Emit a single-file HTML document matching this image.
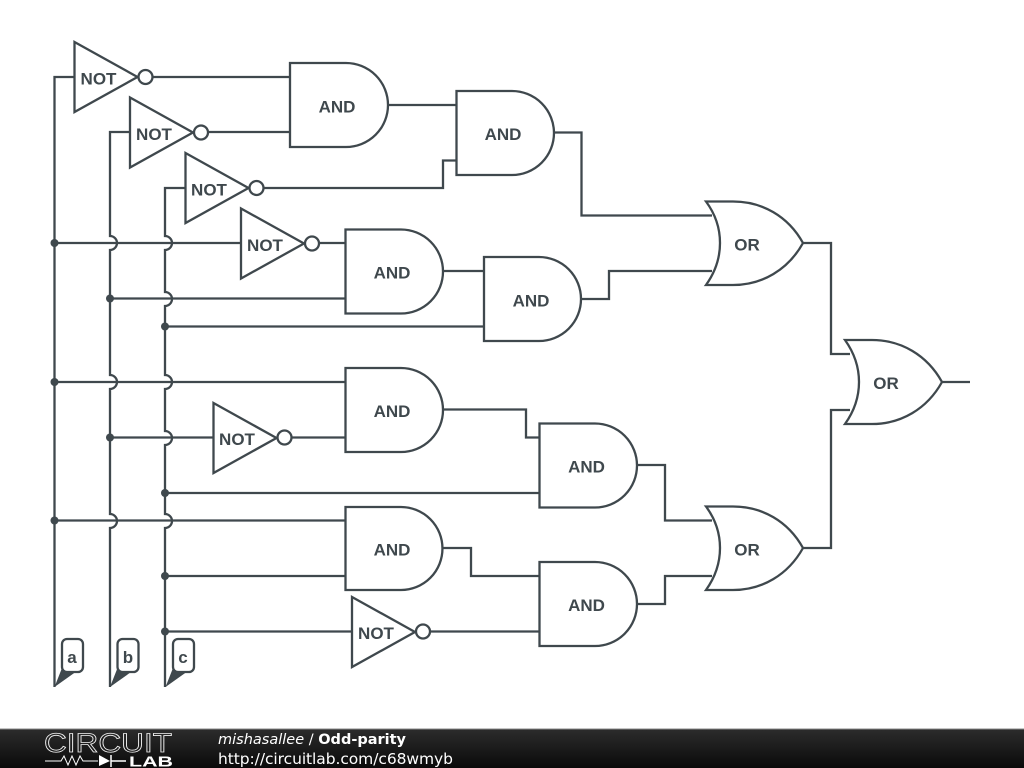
<!DOCTYPE html>
<html><head><meta charset="utf-8"><title>Odd-parity</title>
<style>
html,body{margin:0;padding:0;background:#fff;width:1024px;height:768px;overflow:hidden}
svg{display:block}
.w{fill:none;stroke:#3f484d;stroke-width:2.300}
.g{fill:#fff;stroke:#3f484d;stroke-width:2.300;stroke-linejoin:miter}
.t{font-family:"Liberation Sans",sans-serif;font-weight:bold;font-size:17px;fill:#3f484d;text-anchor:middle}
.l{font-family:"Liberation Sans",sans-serif;font-weight:bold;font-size:17px;fill:#3f484d;text-anchor:middle}
.f{font-family:"DejaVu Sans",sans-serif;font-size:14.5px;fill:#fff}
</style></head><body>
<svg width="1024" height="768" viewBox="0 0 1024 768" xmlns="http://www.w3.org/2000/svg">
<defs><linearGradient id="bar" x1="0" y1="0" x2="0" y2="1"><stop offset="0" stop-color="#2c2c2c"/><stop offset="1" stop-color="#0a0a0a"/></linearGradient></defs>
<rect width="1024" height="768" fill="#fff"/>
<!-- buses -->
<path class="w" d="M74.500 77H54.500V687"/>
<path class="w" d="M130 132H110V236A7 7 0 0 1 110 250V375A7 7 0 0 1 110 389V514A7 7 0 0 1 110 528V687"/>
<path class="w" d="M185 188H165V236A7 7 0 0 1 165 250V292A7 7 0 0 1 165 306V375A7 7 0 0 1 165 389V431A7 7 0 0 1 165 445V514A7 7 0 0 1 165 528V687"/>
<!-- horizontals -->
<path class="w" d="M152 77H290M208 132H290M264 188H443V160.500H457M388 105H457M554 132.500H581.500V215.500H712"/>
<path class="w" d="M54.500 243H241M319 243H346M110 298.500H346M443 271H484M165 326.500H484M581 299H609V271H712"/>
<path class="w" d="M803 243H831V354H850M803 548H831V410H850M942 382H970"/>
<path class="w" d="M54.500 382H346M110 437.500H213M291 437.500H346M443 409.500H526V437.500H540M165 493H540M637 465H665V520.500H712"/>
<path class="w" d="M54.500 520.500H346M165 576H346M443 548H471V576H540M165 631.500H352M430 631.500H540M637 604H665V576H712"/>
<!-- dots -->
<g fill="#3f484d">
<circle cx="54.500" cy="243" r="4"/><circle cx="54.500" cy="382" r="4"/><circle cx="54.500" cy="520.500" r="4"/>
<circle cx="110" cy="298.500" r="4"/><circle cx="110" cy="437.500" r="4"/>
<circle cx="165" cy="326.500" r="4"/><circle cx="165" cy="493" r="4"/><circle cx="165" cy="576" r="4"/><circle cx="165" cy="631.500" r="4"/>
</g>
<!-- NOT gates -->
<path class="g" d="M74.500 42L137.500 77L74.500 112Z"/><circle class="g" cx="145.500" cy="77" r="7"/><text class="t" x="98.500" y="84.500">NOT</text>
<path class="g" d="M130 97.500L193 132.500L130 167.500Z"/><circle class="g" cx="201" cy="132.500" r="7"/><text class="t" x="154" y="140">NOT</text>
<path class="g" d="M185.500 153L248.500 188L185.500 223Z"/><circle class="g" cx="256.500" cy="188" r="7"/><text class="t" x="209" y="195.500">NOT</text>
<path class="g" d="M241 208.500L304 243.500L241 278.500Z"/><circle class="g" cx="312" cy="243.500" r="7"/><text class="t" x="265" y="251">NOT</text>
<path class="g" d="M213.500 403L276.500 438L213.500 473Z"/><circle class="g" cx="284.500" cy="437.500" r="7"/><text class="t" x="237" y="445">NOT</text>
<path class="g" d="M352 597L415 632L352 667Z"/><circle class="g" cx="423" cy="631.500" r="7"/><text class="t" x="376" y="639">NOT</text>
<!-- AND gates -->
<path class="g" d="M290 63H346A42 42 0 0 1 346 147H290Z"/><text class="t" x="337" y="112.500">AND</text>
<path class="g" d="M456.500 91H512A42 42 0 0 1 512 175H456.500Z"/><text class="t" x="503" y="140">AND</text>
<path class="g" d="M345.500 229.500H401A42 42 0 0 1 401 313.500H345.500Z"/><text class="t" x="392" y="278.500">AND</text>
<path class="g" d="M484 257H539A42 42 0 0 1 539 341H484Z"/><text class="t" x="531" y="306.500">AND</text>
<path class="g" d="M345.500 368H401A42 42 0 0 1 401 452H345.500Z"/><text class="t" x="392" y="417">AND</text>
<path class="g" d="M539.500 423.500H595A42 42 0 0 1 595 507.500H539.500Z"/><text class="t" x="586.500" y="472.500">AND</text>
<path class="g" d="M345.500 507H401A41.500 41.500 0 0 1 401 590H345.500Z"/><text class="t" x="392" y="555.500">AND</text>
<path class="g" d="M539.500 562H595A42 42 0 0 1 595 646H539.500Z"/><text class="t" x="586.500" y="611">AND</text>
<!-- OR gates -->
<path class="g" d="M706 201.500H733C762 201.500 788 216 803 243C788 270 762 285 733 285H706C716 271 720 257 720 243C720 229 716 215 706 201.500Z"/><text class="t" x="747" y="250.500">OR</text>
<path class="g" d="M706 506.500H733C762 506.500 788 521 803 548C788 575 762 590 733 590H706C716 576 720 562 720 548C720 534 716 520 706 506.500Z"/><text class="t" x="747" y="555.500">OR</text>
<path class="g" d="M845 340H872C901 340 927 355 942 382C927 409 901 424 872 424H845C855 410 859 396 859 382C859 368 855 354 845 340Z"/><text class="t" x="886" y="389">OR</text>
<!-- flags -->
<g fill="#3f484d">
<path d="M54.500 687L62 668L77 671Z"/><path d="M110 687L117.500 668L132.500 671Z"/><path d="M165.500 687L173 668L188 671Z"/>
</g>
<rect class="g" x="62" y="639" width="21" height="33" rx="5"/><text class="l" x="72" y="663">a</text>
<rect class="g" x="117.500" y="639" width="21" height="33" rx="5"/><text class="l" x="128" y="663">b</text>
<rect class="g" x="173" y="639" width="21" height="33" rx="5"/><text class="l" x="183" y="663">c</text>
<!-- footer -->
<rect x="0" y="729" width="1024" height="39" fill="url(#bar)"/>
<rect x="0" y="728.500" width="1024" height="1" fill="#888"/>
<text x="44" y="752" font-family="'Liberation Sans',sans-serif" font-size="27" textLength="128" lengthAdjust="spacingAndGlyphs" fill="none" stroke="#f0f0f0" stroke-width="0.800">CIRCUIT</text>
<path d="M45 761H61L64 756L68 765L72 756L76 765L80 756L83 761H98" fill="none" stroke="#fff" stroke-width="1"/>
<path d="M99 755L110 761L99 766Z" fill="#fff"/>
<path d="M111 755V767M111 761H126" fill="none" stroke="#fff" stroke-width="1.500"/>
<text x="129" y="766.500" font-family="'Liberation Sans',sans-serif" font-size="15" font-weight="bold" textLength="44" lengthAdjust="spacingAndGlyphs" fill="#fff">LAB</text>
<text class="f" x="218" y="744"><tspan font-style="italic">mishasallee</tspan> / <tspan font-weight="bold">Odd-parity</tspan></text>
<text class="f" x="218" y="764" textLength="235" style="font-size:15.500px">http://circuitlab.com/c68wmyb</text>
</svg>
</body></html>
